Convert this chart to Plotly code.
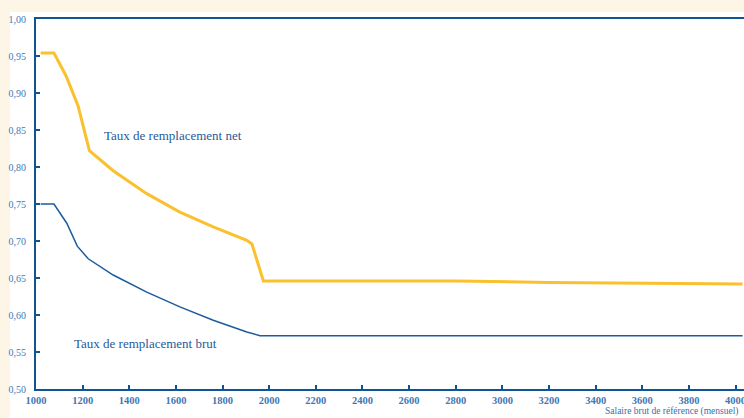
import plotly.graph_objects as go

# Data
net_x = [1020, 1077, 1129, 1180, 1229, 1331, 1475, 1617, 1760, 1904, 1926, 1975, 2400, 2800, 3200, 3600, 4030]
net_y = [0.954, 0.954, 0.923, 0.883, 0.822, 0.795, 0.764, 0.739, 0.719, 0.701, 0.696, 0.646, 0.646, 0.646, 0.644, 0.643, 0.642]

brut_x = [1020, 1077, 1132, 1177, 1224, 1331, 1475, 1617, 1760, 1904, 1961, 2400, 3000, 3600, 4030]
brut_y = [0.750, 0.750, 0.724, 0.693, 0.676, 0.654, 0.631, 0.611, 0.593, 0.577, 0.572, 0.572, 0.572, 0.572, 0.572]

x_ticks = [1000, 1200, 1400, 1600, 1800, 2000, 2200, 2400, 2600, 2800, 3000, 3200, 3400, 3600, 3800, 4000]
y_ticks = [0.50, 0.55, 0.60, 0.65, 0.70, 0.75, 0.80, 0.85, 0.90, 0.95, 1.00]

DARK = "#0f5596"
TICKC = "#3f78b4"
CREAM = "#fdf5e6"
FONT = "Liberation Serif"

L, R, T, B = 36, 0, 19, 29
PW, PH = 744 - L - R, 418 - T - B

fig = go.Figure()
fig.add_trace(go.Scatter(x=net_x, y=net_y, mode="lines",
                         line=dict(color="#fbc02d", width=3), hoverinfo="skip"))
fig.add_trace(go.Scatter(x=brut_x, y=brut_y, mode="lines",
                         line=dict(color="#1a5c9c", width=1.5), hoverinfo="skip"))

fig.update_layout(
    width=744, height=418,
    margin=dict(l=L, r=R, t=T, b=B, autoexpand=False),
    paper_bgcolor=CREAM,
    plot_bgcolor="white",
    showlegend=False,
    separators=", ",
    font=dict(family=FONT, color=TICKC, size=10),
    shapes=[dict(type="rect", xref="paper", yref="paper",
                 x0=(10 - L) / PW, x1=1.02, y0=-0.2, y1=1 + 7 / PH,
                 fillcolor="white", line=dict(width=0), layer="below")],
    annotations=[
        dict(text="Taux de remplacement net", x=1283, y=0.842, xref="x", yref="y",
             xanchor="left", yanchor="middle", showarrow=False,
             font=dict(family=FONT, size=13, color="#1f5a98")),
        dict(text="Taux de remplacement brut", x=1154, y=0.561, xref="x", yref="y",
             xanchor="left", yanchor="middle", showarrow=False,
             font=dict(family=FONT, size=13, color="#1f5a98")),
        dict(text="Salaire brut de référence (mensuel)",
             x=(740 - L) / PW, y=-(411 - (418 - B)) / PH, xref="paper", yref="paper",
             xanchor="right", yanchor="middle",
             showarrow=False, font=dict(family=FONT, size=9.5, color="#3a6ea8")),
    ],
)

fig.update_xaxes(range=[1000, 4036], tickvals=x_ticks, tickformat="d",
                 automargin=False, ticklabeloverflow="allow",
                 showline=True, linecolor=DARK, linewidth=2, mirror=True,
                 ticks="inside", ticklen=4, tickwidth=1.5, tickcolor=DARK,
                 showgrid=False, zeroline=False,
                 tickfont=dict(family=FONT, size=10.5, color=TICKC, weight="bold"))
fig.update_yaxes(range=[0.5, 1.0], tickvals=y_ticks, tickformat=".2f",
                 automargin=False, ticklabeloverflow="allow",
                 showline=True, linecolor=DARK, linewidth=2,
                 ticks="inside", ticklen=4, tickwidth=1.5, tickcolor=DARK,
                 showgrid=False, zeroline=False, ticklabelstandoff=6,
                 tickfont=dict(family=FONT, size=10, color=TICKC))

fig.write_html(
    "out.html",
    config={"displayModeBar": False},
    post_script="document.body.style.margin='0';document.body.style.overflow='hidden';"
                "document.body.style.background='" + CREAM + "';",
)
